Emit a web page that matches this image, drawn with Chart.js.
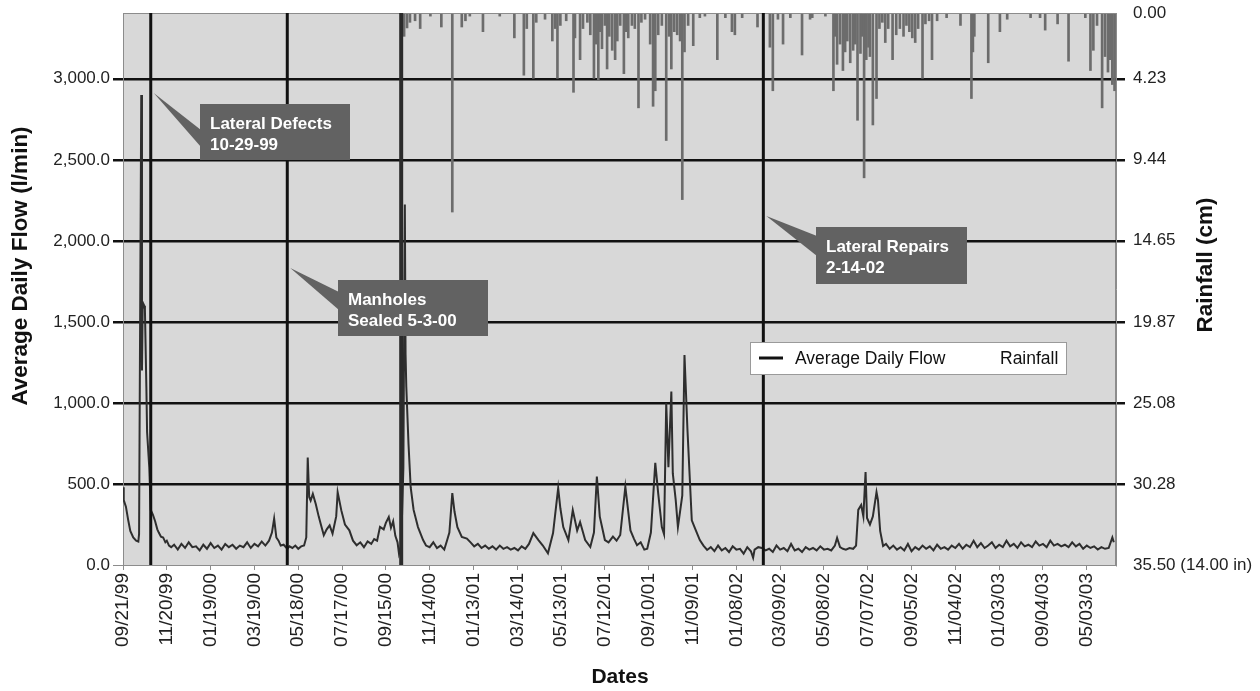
<!DOCTYPE html>
<html>
<head>
<meta charset="utf-8">
<script src="https://cdn.jsdelivr.net/npm/chart.js@4.4.1/dist/chart.umd.min.js"></script>
<style>
  html, body { margin: 0; padding: 0; background: #fff; }
</style>
</head>
<body>
<canvas id="flowChart" width="1260" height="691"></canvas>
<script>
// x axis = days since 09/21/99
const tickLabels = ['09/21/99', '11/20/99', '01/19/00', '03/19/00', '05/18/00', '07/17/00', '09/15/00', '11/14/00',
  '01/13/01', '03/14/01', '05/13/01', '07/12/01', '09/10/01', '11/09/01', '01/08/02', '03/09/02', '05/08/02',
  '07/07/02', '09/05/02', '11/04/02', '01/03/03', '09/04/03', '05/03/03'];
const tickDays = tickLabels.map((l, i) => i * 60);
const lastDay = 1360;

const flowTicks = [0, 500, 1000, 1500, 2000, 2500, 3000];
const flowMax = 3406;
const rainTicks = [0.00, 4.23, 9.44, 14.65, 19.87, 25.08, 30.28, 35.50];

const flowDays = [0, 1, 4, 7, 10, 14, 18, 21, 22, 25, 26, 27, 29, 30, 32, 33, 36, 38, 41, 44, 47, 49, 52, 55, 58, 60, 63, 66,
  70, 75, 80, 85, 90, 95, 100, 105, 110, 115, 120, 125, 130, 135, 140, 145, 150, 155, 160, 165, 170, 175, 180, 185, 190, 195, 200,
  204, 207, 210, 213, 216, 220, 225, 228, 232, 236, 240, 244, 248, 251, 253, 255, 257, 260, 264, 268, 271, 275, 279, 283, 287,
  292, 294, 299, 304, 310, 315, 320, 325, 330, 335, 340, 344, 348, 352, 357, 360, 364, 367, 370, 373, 376, 378, 381, 384, 386,
  387, 388, 391, 394, 398, 404, 411, 415, 420, 425, 430, 435, 440, 444, 447, 451, 454, 458, 464, 471, 476, 481, 486, 491, 496, 501,
  506, 511, 516, 521, 526, 531, 536, 541, 546, 551, 556, 562, 569, 575, 582, 589, 596, 599, 603, 610, 616, 622, 626, 633, 640,
  645, 649, 653, 660, 665, 671, 676, 681, 688, 695, 700, 704, 709, 714, 718, 723, 729, 733, 738, 741, 744, 747, 751, 753, 757,
  760, 766, 769, 773, 779, 784, 790, 795, 800, 805, 810, 815, 820, 825, 830, 835, 840, 845, 850, 855, 860, 863, 865, 870, 875,
  880, 885, 890, 895, 900, 905, 910, 915, 920, 925, 930, 935, 940, 945, 950, 955, 960, 965, 970, 975, 978, 982, 986, 990, 995,
  1000, 1004, 1007, 1011, 1014, 1017, 1019, 1023, 1027, 1032, 1034, 1037, 1041, 1045, 1050, 1055, 1060, 1065, 1070, 1075, 1080,
  1085, 1090, 1095, 1100, 1105, 1110, 1115, 1120, 1125, 1130, 1135, 1140, 1145, 1150, 1155, 1160, 1165, 1170, 1175, 1180, 1185,
  1190, 1195, 1200, 1205, 1210, 1215, 1220, 1225, 1230, 1235, 1240, 1245, 1250, 1255, 1260, 1265, 1270, 1275, 1280, 1285, 1290,
  1295, 1300, 1305, 1310, 1315, 1320, 1325, 1330, 1335, 1340, 1345, 1350, 1355, 1357];
const flowValues = [480, 400, 360, 280, 210, 170, 150, 145, 190, 2900, 1200, 1620, 1600, 1580, 1100, 820, 600, 340, 310, 270, 220, 200, 175, 170, 140, 150, 120, 110,
  125, 95, 130, 105, 140, 110, 115, 90, 125, 100, 135, 105, 120, 95, 130, 110, 125, 100, 120, 110, 140, 105, 130, 115, 145, 120, 150,
  200, 286, 170, 150, 120, 125, 100, 115, 105, 120, 100, 115, 120, 170, 663, 420, 398, 439, 377, 300, 250, 184, 220, 245, 194,
  300, 449, 337, 250, 214, 150, 122, 140, 110, 145, 130, 160, 150, 235, 220, 260, 296, 230, 270, 180, 140, 70, 120, 600, 2225,
  1300, 1100, 750, 480, 340, 234, 154, 120, 110, 140, 105, 120, 95, 154, 200, 444, 330, 234, 173, 163, 140, 115, 130, 105, 120, 100,
  115, 95, 120, 100, 110, 95, 105, 90, 115, 100, 130, 197, 154, 120, 72, 197, 475, 350, 234, 154, 339, 213, 265, 154, 111,
  200, 545, 298, 154, 140, 175, 150, 185, 483, 213, 160, 122, 140, 95, 100, 200, 630, 442, 234, 190, 1000, 604, 1070, 565, 400,
  234, 430, 1296, 841, 276, 220, 154, 120, 93, 110, 85, 120, 90, 105, 80, 115, 95, 100, 70, 110, 85, 45, 95, 110, 105,
  90, 100, 80, 120, 95, 105, 85, 130, 90, 100, 80, 110, 95, 105, 90, 115, 95, 100, 90, 120, 167, 110, 100, 95, 105,
  100, 120, 340, 370, 300, 574, 290, 250, 300, 450, 400, 210, 117, 130, 100, 120, 95, 110, 90, 130, 85,
  110, 95, 120, 100, 115, 90, 125, 100, 110, 95, 120, 105, 130, 100, 125, 110, 150, 110, 135, 105, 120,
  140, 105, 125, 110, 150, 115, 130, 105, 140, 115, 125, 110, 145, 120, 130, 110, 150, 120, 130, 115, 125,
  110, 140, 115, 130, 100, 120, 105, 115, 95, 110, 100, 105, 170, 140];

const rainDays = [385, 389, 393, 400, 407, 421, 436, 451, 464, 469, 475, 493, 516, 536, 549, 553, 562, 566, 578, 588, 592, 595,
  599, 607, 617, 619, 626, 630, 636, 640, 645, 648, 651, 653, 656, 660, 663, 666, 670, 674, 677, 681, 686, 689, 692, 697, 701,
  706, 710, 715, 722, 726, 729, 733, 738, 744, 748, 751, 755, 759, 763, 766, 769, 774, 781, 790, 797, 814, 825, 834, 838, 848,
  869, 886, 890, 897, 904, 914, 930, 941, 944, 962, 973, 975, 978, 982, 986, 989, 992, 996, 1000, 1003, 1006, 1010, 1012, 1015,
  1018, 1021, 1023, 1027, 1032, 1036, 1040, 1044, 1048, 1054, 1059, 1064, 1069, 1073, 1077, 1081, 1085, 1089, 1095, 1099, 1104,
  1108, 1115, 1128, 1147, 1162, 1164, 1166, 1185, 1201, 1211, 1243, 1256, 1263, 1280, 1295, 1318, 1325, 1329, 1334, 1341, 1345,
  1349, 1352, 1355, 1358];
const rainValues = [1.5, 0.96, 0.6, 0.5, 1.0, 0.2, 0.9, 12.8, 0.9, 0.5, 0.2, 1.2, 0.2, 1.6, 4.0, 1.0, 4.2, 0.6, 0.4, 1.8, 1.0, 4.2,
  0.8, 0.5, 5.1, 1.6, 3.0, 1.0, 0.6, 1.4, 4.2, 2.0, 4.3, 1.2, 2.3, 0.8, 3.6, 1.5, 2.4, 3.0, 1.8, 0.8, 3.9, 1.2, 1.6, 0.8, 1.0,
  6.1, 0.6, 0.4, 2.0, 6.0, 5.0, 1.4, 0.8, 8.2, 1.5, 3.6, 1.2, 1.4, 1.8, 12.0, 2.5, 0.8, 2.1, 0.3, 0.2, 3.0, 0.3, 1.2, 1.4, 0.3,
  0.9, 2.2, 5.0, 0.4, 2.0, 0.3, 2.7, 0.4, 0.3, 0.2, 5.0, 1.5, 3.3, 2.0, 3.7, 2.5, 1.8, 3.2, 2.4, 2.0, 6.9, 2.6, 1.5, 10.6,
  3.0, 2.2, 2.8, 7.2, 5.5, 1.0, 0.6, 1.9, 1.0, 3.0, 1.4, 1.0, 1.5, 0.8, 1.2, 1.6, 1.9, 1.0, 4.2, 0.7, 0.5,
  3.0, 0.5, 0.3, 0.8, 5.5, 2.5, 1.5, 3.2, 1.2, 0.4, 0.3, 0.3, 1.1, 0.7, 3.1, 0.3, 3.7, 2.4, 0.8, 6.1, 2.8,
  3.8, 3.0, 4.6, 5.0];

const eventDays = [38, 225, 877];
const eventNotes = [
  { lines: ['Lateral Defects', '10-29-99'], box: [200, 104, 150, 56], tipY: 93, base: [130, 147] },
  { lines: ['Manholes', 'Sealed 5-3-00'], box: [338, 280, 150, 56], tipY: 268, base: [292, 310] },
  { lines: ['Lateral Repairs', '2-14-02'], box: [816, 227, 151, 57], tipY: 216, base: [236, 256] }
];
const rainStartDay = 381;

const FONT = "'Liberation Sans', Arial, sans-serif";

const plotBg = {
  id: 'plotBg',
  beforeDraw(chart) {
    const { ctx, chartArea: a } = chart;
    ctx.save();
    ctx.fillStyle = '#d8d8d8';
    ctx.fillRect(a.left, a.top, a.right - a.left, a.bottom - a.top);
    ctx.strokeStyle = '#8c8c8c';
    ctx.lineWidth = 1;
    ctx.strokeRect(a.left + 0.5, a.top + 0.5, a.right - a.left - 1, a.bottom - a.top);
    ctx.restore();
  }
};

const extras = {
  id: 'extras',
  afterDatasetsDraw(chart) {
    const { ctx, chartArea: a, scales } = chart;
    ctx.save();
    // start of rain record
    let rx = scales.x.getPixelForValue(rainStartDay);
    ctx.strokeStyle = '#2b2b2b';
    ctx.lineWidth = 4;
    ctx.beginPath(); ctx.moveTo(rx, a.top); ctx.lineTo(rx, a.bottom); ctx.stroke();

    // event lines
    ctx.strokeStyle = '#111';
    ctx.lineWidth = 3;
    eventDays.forEach(d => {
      const x = scales.x.getPixelForValue(d);
      ctx.beginPath(); ctx.moveTo(x, a.top); ctx.lineTo(x, a.bottom); ctx.stroke();
    });

    // callouts
    eventNotes.forEach((n, i) => {
      const tipX = scales.x.getPixelForValue(eventDays[i]) + 3;
      const [bx, by, bw, bh] = n.box;
      ctx.fillStyle = '#626262';
      ctx.beginPath();
      ctx.moveTo(tipX, n.tipY);
      ctx.lineTo(bx + 1, n.base[0]);
      ctx.lineTo(bx + 1, n.base[1]);
      ctx.closePath();
      ctx.fill();
      ctx.fillRect(bx, by, bw, bh);
      ctx.fillStyle = '#fff';
      ctx.font = 'bold 17px ' + FONT;
      ctx.textBaseline = 'middle';
      ctx.textAlign = 'left';
      ctx.fillText(n.lines[0], bx + 10, by + 20);
      ctx.fillText(n.lines[1], bx + 10, by + 41);
    });

    // legend
    ctx.fillStyle = '#fff';
    ctx.fillRect(750, 342, 316, 32);
    ctx.strokeStyle = '#9a9a9a';
    ctx.lineWidth = 1;
    ctx.strokeRect(750.5, 342.5, 316, 32);
    ctx.strokeStyle = '#111';
    ctx.lineWidth = 3;
    ctx.beginPath(); ctx.moveTo(759, 358); ctx.lineTo(783, 358); ctx.stroke();
    ctx.fillStyle = '#111';
    ctx.font = '17.5px ' + FONT;
    ctx.textBaseline = 'middle';
    ctx.fillText(chart.data.datasets[0].label, 795, 359);
    ctx.fillText(chart.data.datasets[1].label, 1000, 359);

    // axis titles
    ctx.font = 'bold 22.5px ' + FONT;
    ctx.textAlign = 'center';
    ctx.save();
    ctx.translate(21, 266);
    ctx.rotate(-Math.PI / 2);
    ctx.fillText('Average Daily Flow (l/min)', 0, 0);
    ctx.restore();
    ctx.save();
    ctx.translate(1206, 265);
    ctx.rotate(-Math.PI / 2);
    ctx.fillText('Rainfall (cm)', 0, 0);
    ctx.restore();
    ctx.font = 'bold 21px ' + FONT;
    ctx.fillText('Dates', 620, 677);
    ctx.restore();
  }
};

new Chart(document.getElementById('flowChart'), {
  type: 'bar',
  data: {
    datasets: [{
      type: 'line',
      label: 'Average Daily Flow',
      data: flowDays.map((d, i) => ({ x: d, y: flowValues[i] })),
      yAxisID: 'y',
      borderColor: '#2e2e2e',
      borderWidth: 2,
      pointRadius: 0,
      tension: 0,
      order: 1
    }, {
      type: 'bar',
      label: 'Rainfall',
      data: rainDays.map((d, i) => ({ x: d, y: rainValues[i] })),
      yAxisID: 'y2',
      backgroundColor: '#6c6c6c',
      barThickness: 2,
      grouped: false,
      order: 2
    }]
  },
  options: {
    responsive: false,
    animation: false,
    layout: { padding: { top: 13, left: 0, right: 0, bottom: 0 } },
    plugins: { legend: { display: false }, tooltip: { enabled: false } },
    scales: {
      x: {
        type: 'linear',
        min: 0,
        max: lastDay,
        offset: false,
        afterBuildTicks: s => { s.ticks = tickDays.map(v => ({ value: v })); },
        afterFit: s => { s.height = 126; s.paddingLeft = 0; s.paddingRight = 0; },
        grid: { drawOnChartArea: false, offset: false, tickLength: 5, color: '#8c8c8c' },
        border: { color: '#8c8c8c' },
        ticks: {
          autoSkip: false,
          minRotation: 90,
          maxRotation: 90,
          padding: 3,
          color: '#222',
          font: { family: FONT, size: 19 },
          callback: (v, i) => tickLabels[i]
        }
      },
      y: {
        position: 'left',
        min: 0,
        max: flowMax,
        afterBuildTicks: s => { s.ticks = flowTicks.map(v => ({ value: v })); },
        afterFit: s => { s.width = 123; s.paddingTop = 0; s.paddingBottom = 0; },
        grid: {
          tickLength: 10,
          color: c => c.tick && c.tick.value === 0 ? '#8c8c8c' : '#111',
          lineWidth: c => c.tick && c.tick.value === 0 ? 1 : 2.5
        },
        border: { color: '#8c8c8c' },
        ticks: {
          padding: 3,
          color: '#222',
          font: { family: FONT, size: 17 },
          callback: v => v.toLocaleString('en-US', { minimumFractionDigits: 1, maximumFractionDigits: 1 })
        }
      },
      y2: {
        position: 'right',
        reverse: true,
        min: 0,
        max: 35.5,
        afterBuildTicks: s => { s.ticks = rainTicks.map(v => ({ value: v })); },
        afterFit: s => { s.width = 144; s.paddingTop = 0; s.paddingBottom = 0; },
        grid: {
          drawOnChartArea: false,
          tickLength: 9,
          lineWidth: 2.5,
          color: c => (c.index === 0 || c.index === rainTicks.length - 1) ? 'rgba(0,0,0,0)' : '#111'
        },
        border: { color: '#8c8c8c' },
        ticks: {
          padding: 8,
          color: '#222',
          font: { family: FONT, size: 17 },
          callback: (v, i) => i === rainTicks.length - 1 ? v.toFixed(2) + ' (14.00 in)' : v.toFixed(2)
        }
      }
    }
  },
  plugins: [plotBg, extras]
});
</script>
</body>
</html>
